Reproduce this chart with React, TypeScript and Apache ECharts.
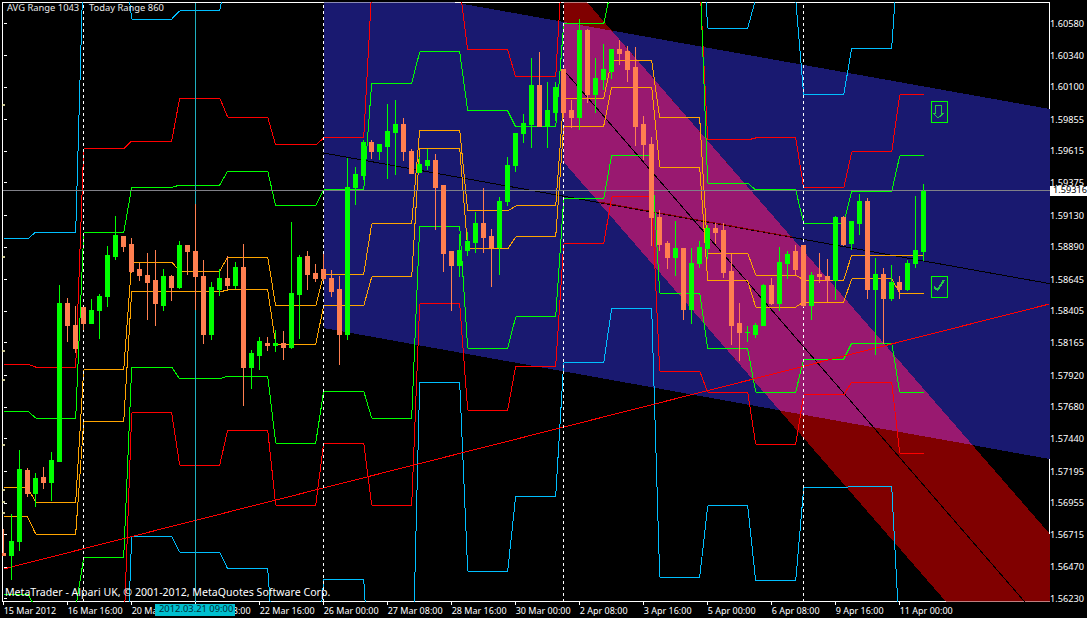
import React, { useEffect, useRef } from "react";
import * as echarts from "echarts";

// [open, close, low, high] per bar
const candleRows: number[][] = [
  [1.56575,1.56553,1.56553,1.56757],[1.5656,1.56666,1.56371,1.5687],[1.56659,1.5721,1.5659,1.57354],[1.57203,1.57022,1.56999,1.57218],
  [1.57022,1.57142,1.56923,1.5718],[1.5715,1.57112,1.5706,1.57225],[1.57112,1.57278,1.56968,1.57339],[1.5727,1.58458,1.57263,1.58601],
  [1.58458,1.58292,1.58171,1.58503],[1.58292,1.58118,1.58087,1.58443],[1.58435,1.58314,1.58261,1.58435],[1.58314,1.58412,1.58307,1.58496],
  [1.58412,1.58511,1.58193,1.58534],[1.58511,1.58828,1.58435,1.58897],[1.5882,1.58972,1.5879,1.59123],[1.58965,1.58889,1.58851,1.58965],
  [1.58904,1.58707,1.58692,1.58957],[1.58715,1.58677,1.58632,1.58767],[1.58677,1.58624,1.58337,1.58843],[1.58632,1.58458,1.58292,1.58866],
  [1.5845,1.58669,1.58405,1.58722],[1.58669,1.58579,1.5848,1.58677],[1.58579,1.58897,1.58571,1.58935],[1.58897,1.58851,1.58677,1.58897],
  [1.58858,1.58662,1.58412,1.59214],[1.58669,1.58231,1.58156,1.5879],[1.58231,1.58579,1.58186,1.58624],[1.58564,1.58647,1.58518,1.58722],
  [1.58647,1.58594,1.58571,1.5882],[1.58594,1.58737,1.58571,1.58775],[1.58737,1.57981,1.57687,1.58912],[1.57981,1.5808,1.57815,1.5811],
  [1.58072,1.58171,1.57959,1.58209],[1.58163,1.58141,1.58103,1.58209],[1.58141,1.58156,1.58095,1.58261],[1.58156,1.58126,1.58034,1.58254],
  [1.58126,1.58534,1.58118,1.59078],[1.58526,1.58813,1.58193,1.58828],[1.5882,1.58684,1.58564,1.58858],[1.58692,1.58647,1.58624,1.5876],
  [1.58715,1.58647,1.58632,1.58835],[1.58654,1.58556,1.58511,1.58715],[1.58564,1.58231,1.57996,1.58669],[1.58231,1.59335,1.58186,1.59562],
  [1.59335,1.5944,1.59206,1.59493],[1.59433,1.59675,1.59395,1.59698],[1.59675,1.59614,1.59554,1.59698],[1.59614,1.59667,1.59546,1.59667],
  [1.59652,1.59765,1.59403,1.5997],[1.59758,1.59811,1.59433,1.6],[1.59811,1.59607,1.59539,1.59864],[1.59607,1.59448,1.5944,1.5963],
  [1.59455,1.59516,1.59448,1.59569],[1.59508,1.59539,1.59471,1.5963],[1.59539,1.59335,1.59017,1.59592],[1.5935,1.58843,1.58699,1.5935],
  [1.58851,1.58752,1.58405,1.58851],[1.58752,1.58866,1.58662,1.58987],[1.58866,1.58927,1.5882,1.59002],[1.58919,1.59063,1.58843,1.59153],
  [1.59063,1.58957,1.58843,1.59335],[1.58965,1.58882,1.58586,1.59025],[1.58882,1.59236,1.58677,1.59266],[1.59229,1.59508,1.59199,1.59569],
  [1.59508,1.59743,1.59456,1.59743],[1.59743,1.59826,1.59675,1.59894],[1.59811,1.60106,1.59637,1.60317],[1.60106,1.59803,1.59796,1.60363],
  [1.59803,1.59917,1.59637,1.60136],[1.59902,1.60091,1.59841,1.60136],[1.60227,1.59909,1.59864,1.60227],[1.59917,1.59864,1.59788,1.6],
  [1.59864,1.60529,1.59773,1.60612],[1.60529,1.60045,1.59977,1.60537],[1.60045,1.60166,1.59902,1.60317],[1.60158,1.60227,1.60076,1.60423],
  [1.60212,1.60378,1.60158,1.60386],[1.60378,1.60355,1.60265,1.60454],[1.6037,1.60234,1.60136,1.60408],[1.60242,1.59803,1.59652,1.60401],
  [1.59811,1.5966,1.59546,1.59879],[1.59667,1.59108,1.58897,1.5972],[1.59115,1.58904,1.58858,1.59168],[1.58912,1.58813,1.58722,1.58935],
  [1.58813,1.58874,1.58669,1.59085],[1.58874,1.5842,1.58337,1.58882],[1.5842,1.58767,1.58307,1.58882],[1.58767,1.58882,1.5873,1.58935],
  [1.58874,1.59025,1.58798,1.59055],[1.59025,1.59002,1.58912,1.5907],[1.5901,1.58699,1.58654,1.5907],[1.58707,1.58299,1.58148,1.58835],
  [1.58307,1.58239,1.58027,1.58465],[1.58239,1.58246,1.58171,1.58292],[1.58231,1.58299,1.58201,1.58314],[1.58292,1.58594,1.58292,1.58609],
  [1.58594,1.58465,1.5845,1.58654],[1.58465,1.58775,1.58405,1.58889],[1.58767,1.58835,1.58647,1.58858],[1.58851,1.58715,1.58677,1.58904],
  [1.58897,1.58443,1.58435,1.58897],[1.58443,1.58677,1.58337,1.58699],[1.58684,1.58669,1.58617,1.58843],[1.58669,1.58632,1.58473,1.58798],
  [1.58632,1.59115,1.58488,1.59123],[1.59115,1.58904,1.58897,1.59123],[1.58912,1.59078,1.58866,1.59085],[1.5907,1.59236,1.58979,1.59289],
  [1.59236,1.58564,1.58496,1.59259],[1.58571,1.58684,1.58072,1.58805],[1.58684,1.58496,1.58156,1.5873],[1.58503,1.58617,1.5848,1.58752],
  [1.58617,1.58571,1.58496,1.58669],[1.58571,1.58767,1.58556,1.5879],[1.58767,1.58866,1.5873,1.59274],[1.58851,1.59312,1.58783,1.59365],
];

// first and last bar of each plateau of the level indicators
const plateauBars: number[][] = [
  [0,3],[4,9],[10,15],[16,21],[22,27],[28,33],[34,39],[40,45],[46,51],[52,57],
  [58,63],[64,69],[70,75],[76,81],[82,87],[88,93],[94,99],[100,105],[106,111],[112,115],
];

const blueUpper = [1.5895,1.59002,1.61134,1.60612,1.60673,1.60983,1.61512,1.61512,1.61512,1.61512,1.61512,1.61512,1.61512,1.61512,1.61512,1.60544,1.60764,1.60038,1.60393,1.6127];
const redUpper = [1.58004,1.57981,1.5963,1.5969,1.60015,1.59871,1.5966,1.59713,1.60832,1.60854,1.60378,1.60174,1.6121,1.6121,1.60907,1.59698,1.59713,1.59335,1.59607,1.60038];
const greenUpper = [1.57649,1.57596,1.58995,1.59339,1.59357,1.59463,1.59199,1.5932,1.60128,1.60363,1.59917,1.59796,1.60575,1.60862,1.61005,1.59372,1.5932,1.5907,1.59308,1.59577];
const orangeUpper = [1.57067,1.56961,1.57959,1.58775,1.58707,1.58813,1.58443,1.58684,1.59063,1.59773,1.59161,1.59199,1.60015,1.60295,1.59864,1.58843,1.58677,1.58639,1.58828,1.58828];
const orangeLower = [1.56848,1.56719,1.57566,1.58556,1.58549,1.58564,1.58155,1.58443,1.58662,1.59637,1.58874,1.58965,1.59803,1.60098,1.59493,1.58632,1.58435,1.58473,1.58647,1.58541];
const greenLower = [1.56265,1.5616,1.56538,1.57981,1.57891,1.57913,1.57407,1.578,1.57596,1.59047,1.58125,1.5836,1.59252,1.59584,1.58541,1.58118,1.57792,1.58042,1.58163,1.57792];
const redLower = [1.55842,1.55842,1.5594,1.57634,1.5724,1.57505,1.56938,1.57407,1.56938,1.58458,1.57656,1.57989,1.58912,1.59267,1.57951,1.57792,1.57399,1.5777,1.57868,1.57331];
const blueLower = [1.54708,1.54708,1.55086,1.56704,1.56583,1.56455,1.55615,1.56379,1.55426,1.57868,1.56439,1.57006,1.58012,1.58427,1.56394,1.56931,1.56364,1.57067,1.57082,1.55918];

// channels, as [bar, price] corners
const blueChannel = [[40,1.60915],[130.725,1.59932],[130.725,1.57286],[40,1.58276]];
const redChannel = [[70,1.60942],[130.725,1.56722],[130.725,1.55307],[70,1.59531]];
const overlapChannel = [[70,1.6059],[76,1.60524],[121.1,1.57392],[97,1.57653],[70,1.59531]];

// trend lines, as [bar, price]
const blackTrend = [[40,1.59599],[130.725,1.58612]];
const blackTrendInOverlap = [[74.4,1.59229],[98.5,1.58965]];
const blackDiagonal = [[70.2,1.60212],[129.5,1.56076]];
const redTrend = [[0,1.56455],[130.725,1.58458]];

const separatorBars = [10, 40, 70, 100];
const crosshairBar = 24;
const currentPrice = 1.59316;
const leftMarks = [1.59962,1.58813,1.58103,1.57883,1.57392,1.57052,1.56961,1.56878];

const timeLabels = ["15 Mar 2012","16 Mar 16:00","20 Mar 00:00","21 Mar 08:00","22 Mar 16:00","26 Mar 00:00","27 Mar 08:00","28 Mar 16:00","30 Mar 00:00","2 Apr 08:00","3 Apr 16:00","5 Apr 00:00","6 Apr 08:00","9 Apr 16:00","11 Apr 00:00"];
const timeTickBars = [0,8,16,24,32,40,48,56,64,72,80,88,96,104,112];
const priceTicks = [1.6058,1.6034,1.601,1.59855,1.59615,1.59375,1.5913,1.5889,1.58645,1.58405,1.58165,1.5792,1.5768,1.5744,1.57195,1.56955,1.56715,1.5647,1.5623];
const barCount = 131;

const FONT = '"Noto Sans", sans-serif';
const PRICE_MIN = 1.56209;
const PRICE_MAX = 1.60737;

function polygonSeries(points: number[][], fill: string, z: number) {
  return {
    type: "custom", silent: true, clip: true, z, coordinateSystem: "cartesian2d",
    data: [points[0]],
    renderItem: (_p: any, api: any) => ({
      type: "polygon",
      shape: { points: points.map((pt) => api.coord(pt)) },
      style: { fill, stroke: "none" },
    }),
  };
}

function lineSeries(data: number[][], color: string, z: number, width = 1) {
  return {
    type: "line", silent: true, z, data, showSymbol: false, symbol: "none", clip: true, animation: false,
    lineStyle: { color, width }, itemStyle: { color },
  };
}

function levelData(values: number[]) {
  const out: number[][] = [];
  values.forEach((v, k) => {
    out.push([plateauBars[k][0], v]);
    out.push([plateauBars[k][1], v]);
  });
  return out;
}

export default function App() {
  const ref = useRef<HTMLDivElement>(null);
  useEffect(() => {
    document.body.style.margin = "0";
    document.body.style.background = "#000";
    document.body.style.overflow = "hidden";
    const chart = echarts.init(ref.current!, undefined, { renderer: "svg" });
    chart.setOption({
      animation: false,
      backgroundColor: "#000",
      tooltip: { show: false },
      grid: [
        { left: 2.5, top: 2.5, width: 1047, height: 599, show: true, backgroundColor: "#000", borderColor: "#fff", borderWidth: 1, outerBoundsMode: "none" },
        { left: -0.3, top: 2.5, width: 8 * barCount, height: 599, show: false, outerBoundsMode: "none" },
      ],
      xAxis: [
        {
          type: "value", gridIndex: 0, min: -0.15, max: 130.725, splitLine: { show: false },
          axisLine: { show: false },
          axisTick: { show: true, length: 3, lineStyle: { color: "#fff" }, customValues: timeTickBars },
          axisLabel: {
            color: "#fff", fontFamily: FONT, fontSize: 9, align: "left", margin: 4,
            customValues: timeTickBars,
            formatter: (v: number) => timeLabels[timeTickBars.indexOf(v)] ?? "",
          },
        },
        {
          type: "category", gridIndex: 1, show: false,
          data: Array.from({ length: barCount }, (_, i) => String(i)),
        },
      ],
      yAxis: [
        {
          type: "value", gridIndex: 0, position: "right", min: PRICE_MIN, max: PRICE_MAX, scale: true, splitLine: { show: false },
          axisLine: { show: false },
          axisTick: { show: true, length: 3, lineStyle: { color: "#fff" }, customValues: priceTicks },
          axisLabel: {
            color: "#fff", fontFamily: FONT, fontSize: 9.2, margin: 0.5, customValues: priceTicks,
            formatter: (v: number) => v.toFixed(5),
          },
        },
        { type: "value", gridIndex: 1, show: false, min: PRICE_MIN, max: PRICE_MAX, scale: true, splitLine: { show: false } },
      ],
      series: [
        polygonSeries(blueChannel, "#191970", 1),
        polygonSeries(redChannel, "#800000", 1),
        polygonSeries(overlapChannel, "#991970", 1),
        lineSeries(blackTrend, "#000", 2),
        lineSeries(blackTrendInOverlap, "#800000", 2),
        lineSeries(blackDiagonal, "#000", 2),
        lineSeries(levelData(blueUpper), "#00BFFF", 3),
        lineSeries(levelData(blueLower), "#00BFFF", 3),
        lineSeries(levelData(redUpper), "#FF0000", 3),
        lineSeries(levelData(redLower), "#FF0000", 3),
        lineSeries(levelData(greenUpper), "#00FF00", 3),
        lineSeries(levelData(greenLower), "#00FF00", 3),
        lineSeries(levelData(orangeUpper), "#FFA500", 3),
        lineSeries(levelData(orangeLower), "#FFA500", 3),
        lineSeries(redTrend, "#FF0000", 4),
        {
          type: "line", silent: true, z: 4, data: [], showSymbol: false,
          markLine: {
            silent: true, symbol: "none", animation: false, precision: 5,
            label: { show: false },
            data: [
              ...separatorBars.map((b) => ({
                xAxis: b,
                lineStyle: { color: "#fff", type: [3, 3], width: 1 },
              })),
              { xAxis: crosshairBar, lineStyle: { color: "#1fb0bf", type: "solid", width: 1 } },
              { yAxis: currentPrice, lineStyle: { color: "#808088", type: "solid", width: 1 } },
            ],
          },
        },
        {
          type: "scatter", silent: true, z: 4, symbol: "rect", symbolSize: [3, 2],
          itemStyle: { color: "#f4f0b0" }, data: leftMarks.map((p) => [0, p]),
        },
        {
          type: "candlestick", silent: true, z: 5, xAxisIndex: 1, yAxisIndex: 1, barWidth: 4, clip: true, data: candleRows,
          itemStyle: { color: "#00FF00", color0: "#FF7F50", borderColor: "#00FF00", borderColor0: "#FF7F50", borderWidth: 1 },
        },
      ],
      graphic: [
        { type: "rect", z: 99, shape: { x: 0, y: 0, width: 2, height: 618 }, style: { fill: "#000" } },
        { type: "text", x: 7, y: 3, z: 100, style: { text: "AVG Range 1043", fill: "#e8e8e8", font: `9.4px ${FONT}` } },
        { type: "text", x: 89, y: 3, z: 100, style: { text: "Today Range 860", fill: "#e8e8e8", font: `9.4px ${FONT}` } },
        { type: "text", x: 5, y: 586, z: 100, style: { text: "MetaTrader - Alpari UK, © 2001-2012, MetaQuotes Software Corp.", fill: "#fff", font: `10.6px ${FONT}` } },
        { type: "rect", z: 100, shape: { x: 155, y: 604, width: 80, height: 12 }, style: { fill: "#00BFCF" } },
        { type: "text", x: 159, y: 604, z: 101, style: { text: "2012.03.21 09:00", fill: "#003038", font: `9.4px ${FONT}` } },
        { type: "rect", z: 100, shape: { x: 1050, y: 186, width: 37, height: 10 }, style: { fill: "#fff" } },
        { type: "text", x: 1053, y: 184.5, z: 101, style: { text: currentPrice.toFixed(5), fill: "#000", font: `9.2px ${FONT}` } },
        { type: "rect", z: 100, shape: { x: 931.5, y: 101.5, width: 16, height: 21 }, style: { fill: "none", stroke: "#00FF00", lineWidth: 1 } },
        { type: "polyline", z: 100, shape: { points: [[935,105],[941,105],[941,113],[944,113],[938,118],[933,113],[935,113],[935,105]] }, style: { fill: "none", stroke: "#22c844", lineWidth: 1 } },
        { type: "rect", z: 100, shape: { x: 931.5, y: 276.5, width: 16, height: 21 }, style: { fill: "none", stroke: "#00FF00", lineWidth: 1 } },
        { type: "polyline", z: 100, shape: { points: [[934,287],[937.5,290],[944,280]] }, style: { fill: "none", stroke: "#22c844", lineWidth: 2 } },
      ],
    });
    return () => chart.dispose();
  }, []);
  return (
    <>
      <style>{`#chart svg path, #chart svg polygon, #chart svg line, #chart svg polyline { shape-rendering: crispEdges; }`}</style>
      <div id="chart" ref={ref} style={{ position: "absolute", left: 0, top: 0, width: 1087, height: 618 }} />
    </>
  );
}
